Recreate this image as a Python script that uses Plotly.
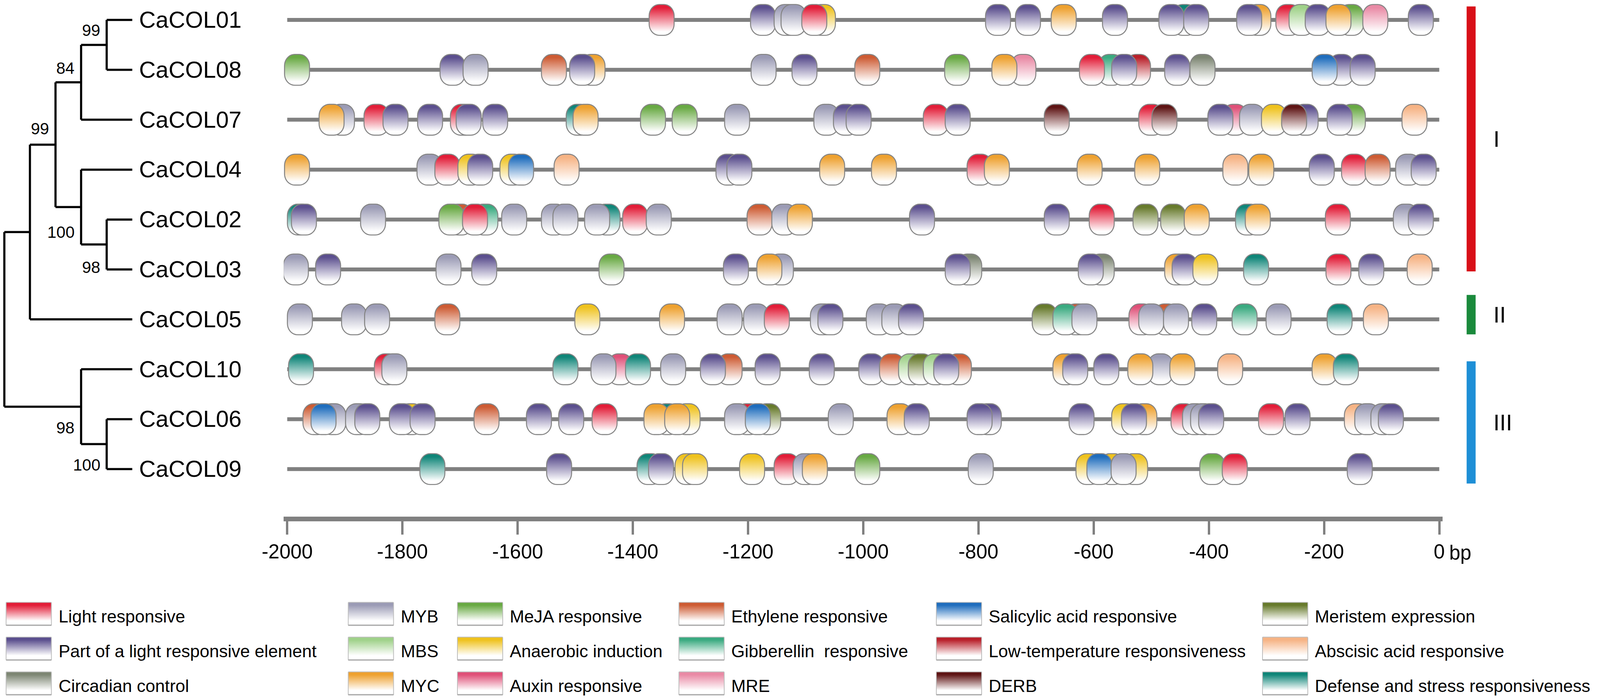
import numpy as np
import plotly.graph_objects as go

# ---------------- data ----------------
genes = ["CaCOL01", "CaCOL08", "CaCOL07", "CaCOL04", "CaCOL02",
         "CaCOL03", "CaCOL05", "CaCOL10", "CaCOL06", "CaCOL09"]

element_names = {
    "L": "Light responsive", "P": "Part of a light responsive element", "C": "Circadian control",
    "MYB": "MYB", "MBS": "MBS", "MYC": "MYC",
    "MEJA": "MeJA responsive", "ANA": "Anaerobic induction", "AUX": "Auxin responsive",
    "ETH": "Ethylene responsive", "GA": "Gibberellin  responsive", "MRE": "MRE",
    "SA": "Salicylic acid responsive", "LT": "Low-temperature responsiveness", "DERB": "DERB",
    "MER": "Meristem expression", "ABA": "Abscisic acid responsive", "DEF": "Defense and stress responsiveness",
}
element_colors = {
    "L": "#e21d38", "P": "#5b4f8e", "C": "#7d8673",
    "MYB": "#9b9bb5", "MBS": "#9fd189", "MYC": "#eea12f",
    "MEJA": "#68a943", "ANA": "#efc21d", "AUX": "#df5078",
    "ETH": "#cd5b33", "GA": "#3aaa80", "MRE": "#e98aa5",
    "SA": "#1f6dbd", "LT": "#b9202a", "DERB": "#5e1414",
    "MER": "#677a2c", "ABA": "#f6b384", "DEF": "#0f8578",
}
legend_columns = [["L", "P", "C"], ["MYB", "MBS", "MYC"], ["MEJA", "ANA", "AUX"],
                  ["ETH", "GA", "MRE"], ["SA", "LT", "DERB"], ["MER", "ABA", "DEF"]]

# cis-element positions (bp upstream of start), in drawing order
CaCOL01 = [(-1350, "L"), (-1174, "P"), (-1133, "MYB"), (-1121, "MYB"), (-1070, "ANA"), (-1085, "L"),
           (-766, "P"), (-714, "P"), (-652, "MYC"), (-563, "P"), (-442, "DEF"), (-465, "P"), (-422, "P"),
           (-314, "MYC"), (-330, "P"), (-262, "L"), (-239, "MBS"), (-211, "P"), (-153, "MEJA"),
           (-175, "MYC"), (-111, "MRE"), (-32, "P")]
CaCOL08 = [(-1983, "MEJA"), (-1713, "P"), (-1673, "MYB"), (-1537, "ETH"), (-1470, "MYC"), (-1488, "P"),
           (-1173, "MYB"), (-1102, "P"), (-993, "ETH"), (-837, "MEJA"), (-722, "MRE"), (-755, "MYC"),
           (-570, "GA"), (-523, "LT"), (-603, "L"), (-547, "P"), (-455, "P"), (-411, "C"),
           (-170, "P"), (-199, "SA"), (-133, "P")]
CaCOL07 = [(-1905, "MYB"), (-1923, "MYC"), (-1845, "L"), (-1812, "P"), (-1752, "P"), (-1695, "L"),
           (-1685, "P"), (-1639, "P"), (-1494, "DEF"), (-1482, "MYC"), (-1365, "MEJA"), (-1310, "MEJA"),
           (-1219, "MYB"), (-1064, "MYB"), (-1030, "P"), (-1008, "P"), (-874, "L"), (-836, "P"),
           (-664, "DERB"), (-500, "L"), (-477, "DERB"), (-232, "P"), (-355, "AUX"), (-380, "P"),
           (-325, "MYB"), (-287, "ANA"), (-252, "DERB"), (-150, "MEJA"), (-173, "P"), (-43, "ABA")]
CaCOL04 = [(-1983, "MYC"), (-1753, "MYB"), (-1722, "L"), (-1682, "ANA"), (-1665, "P"), (-1609, "ANA"),
           (-1594, "SA"), (-1515, "ABA"), (-1234, "P"), (-1215, "P"), (-1054, "MYC"), (-964, "MYC"),
           (-798, "L"), (-768, "MYC"), (-607, "MYC"), (-507, "MYC"), (-354, "ABA"), (-309, "MYC"),
           (-204, "P"), (-148, "L"), (-107, "ETH"), (-54, "MYB"), (-27, "P")]
CaCOL02 = [(-1978, "DEF"), (-1971, "P"), (-1851, "MYB"), (-1700, "ETH"), (-1715, "MEJA"), (-1656, "GA"),
           (-1674, "L"), (-1606, "MYB"), (-1537, "MYB"), (-1517, "MYB"), (-1444, "DEF"), (-1462, "MYB"),
           (-1396, "L"), (-1355, "MYB"), (-1180, "ETH"), (-1137, "MYB"), (-1110, "MYC"), (-898, "P"),
           (-664, "P"), (-586, "L"), (-510, "MER"), (-462, "MER"), (-421, "MYC"), (-332, "DEF"),
           (-315, "MYC"), (-176, "L"), (-58, "MYB"), (-32, "P")]
CaCOL03 = [(-1985, "MYB"), (-1929, "P"), (-1720, "MYB"), (-1658, "P"), (-1437, "MEJA"), (-1221, "P"),
           (-1143, "MYB"), (-1163, "MYC"), (-816, "C"), (-836, "P"), (-586, "C"), (-605, "P"),
           (-455, "MYC"), (-442, "P"), (-406, "ANA"), (-318, "DEF"), (-175, "L"), (-118, "P"), (-34, "ABA")]
CaCOL05 = [(-1978, "MYB"), (-1884, "MYB"), (-1844, "MYB"), (-1722, "ETH"), (-1479, "ANA"), (-1332, "MYC"),
           (-1232, "MYB"), (-1186, "MYB"), (-1150, "L"), (-1070, "MYB"), (-1057, "P"), (-973, "MYB"),
           (-946, "MYB"), (-917, "P"), (-685, "MER"), (-629, "ETH"), (-649, "GA"), (-616, "MYB"),
           (-517, "AUX"), (-474, "ETH"), (-500, "MYB"), (-457, "MYB"), (-408, "P"), (-338, "GA"),
           (-279, "MYB"), (-173, "DEF"), (-110, "ABA")]
CaCOL10 = [(-1976, "DEF"), (-1827, "L"), (-1814, "MYB"), (-1517, "DEF"), (-1422, "AUX"), (-1451, "MYB"),
           (-1391, "DEF"), (-1330, "MYB"), (-1232, "ETH"), (-1261, "P"), (-1166, "P"), (-1072, "P"),
           (-834, "ETH"), (-986, "P"), (-950, "ETH"), (-917, "MBS"), (-900, "MER"), (-874, "MBS"),
           (-856, "P"), (-649, "MYC"), (-632, "P"), (-578, "P"), (-484, "MYB"), (-519, "MYC"),
           (-446, "MYC"), (-363, "ABA"), (-199, "MYC"), (-162, "DEF")]
CaCOL06 = [(-1951, "ETH"), (-1920, "MYB"), (-1937, "SA"), (-1877, "MYB"), (-1861, "P"), (-1785, "ANA"),
           (-1801, "P"), (-1765, "P"), (-1654, "ETH"), (-1563, "P"), (-1507, "P"), (-1449, "L"),
           (-1340, "DEF"), (-1305, "ANA"), (-1359, "MYC"), (-1323, "MYC"), (-1200, "L"), (-1165, "MER"),
           (-1219, "MYB"), (-1183, "SA"), (-1039, "MYB"), (-937, "MYC"), (-907, "P"), (-782, "P"),
           (-798, "P"), (-621, "P"), (-547, "ANA"), (-512, "MYC"), (-530, "P"), (-444, "L"),
           (-424, "MYB"), (-410, "MYB"), (-396, "P"), (-292, "L"), (-246, "P"), (-143, "ABA"),
           (-125, "MYB"), (-97, "MYB"), (-84, "P")]
CaCOL09 = [(-1748, "DEF"), (-1528, "P"), (-1371, "DEF"), (-1351, "P"), (-1305, "ANA"), (-1292, "ANA"),
           (-1193, "ANA"), (-1133, "L"), (-1100, "MYB"), (-1084, "MYC"), (-993, "MEJA"), (-796, "MYB"),
           (-609, "ANA"), (-568, "ANA"), (-528, "ANA"), (-590, "SA"), (-548, "MYB"), (-394, "MEJA"),
           (-355, "L"), (-138, "P")]
elements = [CaCOL01, CaCOL08, CaCOL07, CaCOL04, CaCOL02, CaCOL03, CaCOL05, CaCOL10, CaCOL06, CaCOL09]

# tree: node -> (depth, children); leaves are gene names
tree_nodes = {
    "root": (0, ["n1", "n6"]),
    "n1": (1, ["n2", "CaCOL05"]),
    "n2": (2, ["n3", "n4"]),
    "n3": (3, ["n5", "CaCOL07"]),
    "n5": (4, ["CaCOL01", "CaCOL08"]),
    "n4": (3, ["CaCOL04", "n7"]),
    "n7": (4, ["CaCOL02", "CaCOL03"]),
    "n6": (3, ["CaCOL10", "n8"]),
    "n8": (4, ["CaCOL06", "CaCOL09"]),
}
leaf_depth = 5
bootstrap = {"n5": 99, "n3": 84, "n2": 99, "n4": 100, "n7": 98, "n6": 98, "n8": 100}
bootstrap_side = {"n5": 0.29, "n3": 0.28, "n2": 0.32, "n4": -0.5, "n7": -0.46, "n6": -0.42, "n8": -0.42}

groups = ["I", "II", "III"]
group_spans = [(-0.27, 5.04), (5.51, 6.3), (6.84, 9.29)]   # in row units (row 0 = CaCOL01)
group_colors = ["#d81018", "#1a8a3c", "#1e8fd6"]

tick_vals = [-2000, -1800, -1600, -1400, -1200, -1000, -800, -600, -400, -200, 0]

# ---------------- geometry (page viewport is ~4096 px wide) ----------------
FW, FH = 4088, 1782
X0_PX, PX_PER_BP = 3676.5, 1.4746
ROW0_PX, ROW_PX = 43, 127.8
TREE_X0, TREE_UNIT = 3.1, 65.5
FONT = "Liberation Sans, Arial, sans-serif"

x_lo, x_hi = -2006, 6
x_dom = [(X0_PX + PX_PER_BP * x_lo) / FW, (X0_PX + PX_PER_BP * x_hi) / FW]
y_rng = [(ROW0_PX - FH) / ROW_PX, ROW0_PX / ROW_PX]
axis_px = 1321


def rounded_box(hw, hh, rx, ry, n=10):
    xs, ys = [], []
    corners = [(hw - rx, hh - ry, 0), (-(hw - rx), hh - ry, 90),
               (-(hw - rx), -(hh - ry), 180), (hw - rx, -(hh - ry), 270)]
    for cx, cy, a0 in corners:
        t = np.radians(np.linspace(a0, a0 + 90, n))
        xs.extend(cx + rx * np.cos(t))
        ys.extend(cy + ry * np.sin(t))
    xs.append(xs[0])
    ys.append(ys[0])
    return np.array(xs), np.array(ys)


def grad(c, lo=0.12, hi=0.9):
    return [[0, "#ffffff"], [lo, "#ffffff"], [hi, c], [1, c]]


# rounded element box in px, converted to data units
cap_x, cap_y = rounded_box(32, 39.5, 26, 29)
cap_x = cap_x / PX_PER_BP
cap_y = cap_y / ROW_PX

fig = go.Figure()

# promoter lines
for i, g in enumerate(genes):
    fig.add_trace(go.Scatter(x=[-2000, 0], y=[-i, -i], mode="lines", xaxis="x", yaxis="y",
                             line=dict(color="#808080", width=10), hoverinfo="skip"))

# cis-elements
for i, (g, items) in enumerate(zip(genes, elements)):
    for pos, code in items:
        c = element_colors[code]
        fig.add_trace(go.Scatter(
            x=pos + cap_x, y=-i + cap_y, mode="lines", fill="toself", xaxis="x", yaxis="y",
            fillgradient=dict(type="vertical", colorscale=grad(c)),
            line=dict(color="#858585", width=2.6), name=element_names[code], hoverinfo="name"))

# tree
node_y = {}


def get_y(n):
    if n in node_y:
        return node_y[n]
    if n in genes:
        node_y[n] = -genes.index(n)
    else:
        node_y[n] = np.mean([get_y(ch) for ch in tree_nodes[n][1]])
    return node_y[n]


tx, ty = [], []
for n, (d, children) in tree_nodes.items():
    ys = [get_y(ch) for ch in children]
    tx += [d, d, None]
    ty += [min(ys), max(ys), None]
    for ch in children:
        cd = leaf_depth if ch in genes else tree_nodes[ch][0]
        tx += [d, cd, None]
        ty += [get_y(ch), get_y(ch), None]
fig.add_trace(go.Scatter(x=tx, y=ty, mode="lines", xaxis="x2", yaxis="y",
                         line=dict(color="black", width=5.5), hoverinfo="skip"))

annotations = []
for n, val in bootstrap.items():
    annotations.append(dict(x=tree_nodes[n][0] - 0.22, y=get_y(n) + bootstrap_side[n], xref="x2", yref="y",
                            text=str(val), showarrow=False, xanchor="right", yanchor="middle",
                            font=dict(family=FONT, size=42, color="black")))
for i, g in enumerate(genes):
    annotations.append(dict(x=leaf_depth + 0.235, y=-i, xref="x2", yref="y", text=g, showarrow=False,
                            xanchor="left", yanchor="middle", font=dict(family=FONT, size=59, color="black")))

# group bars
for lab, (s0, s1), c in zip(groups, group_spans, group_colors):
    fig.add_trace(go.Scatter(x=[0.193, 0.193], y=[-s0, -s1], mode="lines", xaxis="x3", yaxis="y",
                             line=dict(color=c, width=23), hoverinfo="skip"))
    annotations.append(dict(x=0.328, y=-(s0 + s1) / 2, xref="x3", yref="y", text=lab, showarrow=False,
                            xanchor="left", yanchor="middle", font=dict(family=FONT, size=58, color="black")))

# "bp" after the 0 tick label
annotations.append(dict(x=0, y=(FH - 1407) / FH, xref="x", yref="paper", text="bp", showarrow=False,
                        xanchor="left", yanchor="middle", xshift=23,
                        font=dict(family=FONT, size=51, color="black")))

# legend (pixel-like axes x4 / y2, y measured from bottom)
leg_col_px = [7.6, 883.5, 1163, 1730, 2389, 3224]
leg_row_px = [1564, 1653, 1742]
SW_HALF = 58
sw_x, sw_y = rounded_box(SW_HALF, 29.5, 1, 1, n=2)
for ci, col in enumerate(leg_col_px):
    for ri, code in enumerate(legend_columns[ci]):
        cx = col + SW_HALF
        cy = FH - leg_row_px[ri]
        c = element_colors[code]
        fig.add_trace(go.Scatter(x=cx + sw_x, y=cy + sw_y, mode="lines", fill="toself", xaxis="x4", yaxis="y2",
                                 fillgradient=dict(type="vertical", colorscale=grad(c, 0.2, 0.88)),
                                 line=dict(color="#bdbdbd", width=2), hoverinfo="skip"))
        fig.add_trace(go.Scatter(x=[cx - SW_HALF, cx + SW_HALF], y=[cy - 29, cy - 29], mode="lines",
                                 xaxis="x4", yaxis="y2", line=dict(color="#a8a8a8", width=3), hoverinfo="skip"))
        annotations.append(dict(x=col + 132, y=cy - 6, xref="x4", yref="y2", text=element_names[code],
                                showarrow=False, xanchor="left", yanchor="middle",
                                font=dict(family=FONT, size=44.5, color="black")))

hidden = dict(visible=False, showgrid=False, zeroline=False, fixedrange=True)
fig.update_layout(
    width=FW, height=FH,
    margin=dict(l=0, r=0, t=0, b=0, pad=0, autoexpand=False),
    paper_bgcolor="white", plot_bgcolor="rgba(0,0,0,0)",
    showlegend=False,
    font=dict(family=FONT, color="black"),
    xaxis=dict(domain=x_dom, range=[x_lo, x_hi], anchor="free", position=(FH - axis_px) / FH,
               showgrid=False, zeroline=False, showline=True, linecolor="#808080", linewidth=12,
               ticks="outside", ticklen=34, tickwidth=6, tickcolor="#808080", automargin=False,
               tickvals=tick_vals, ticktext=[str(v) for v in tick_vals],
               tickfont=dict(family=FONT, size=51, color="black")),
    yaxis=dict(domain=[0, 1], range=y_rng, anchor="x2", **hidden),
    xaxis2=dict(domain=[0, 0.1], range=[-TREE_X0 / TREE_UNIT, (0.1 * FW - TREE_X0) / TREE_UNIT],
                anchor="y", **hidden),
    xaxis3=dict(domain=[0.9, 1], range=[0, 1], anchor="y", **hidden),
    xaxis4=dict(domain=[0, 1], range=[0, FW], anchor="y2", **hidden),
    yaxis2=dict(domain=[0, 1], range=[0, FH], anchor="x4", **hidden),
    annotations=annotations,
)

fig.write_html("out.html")
